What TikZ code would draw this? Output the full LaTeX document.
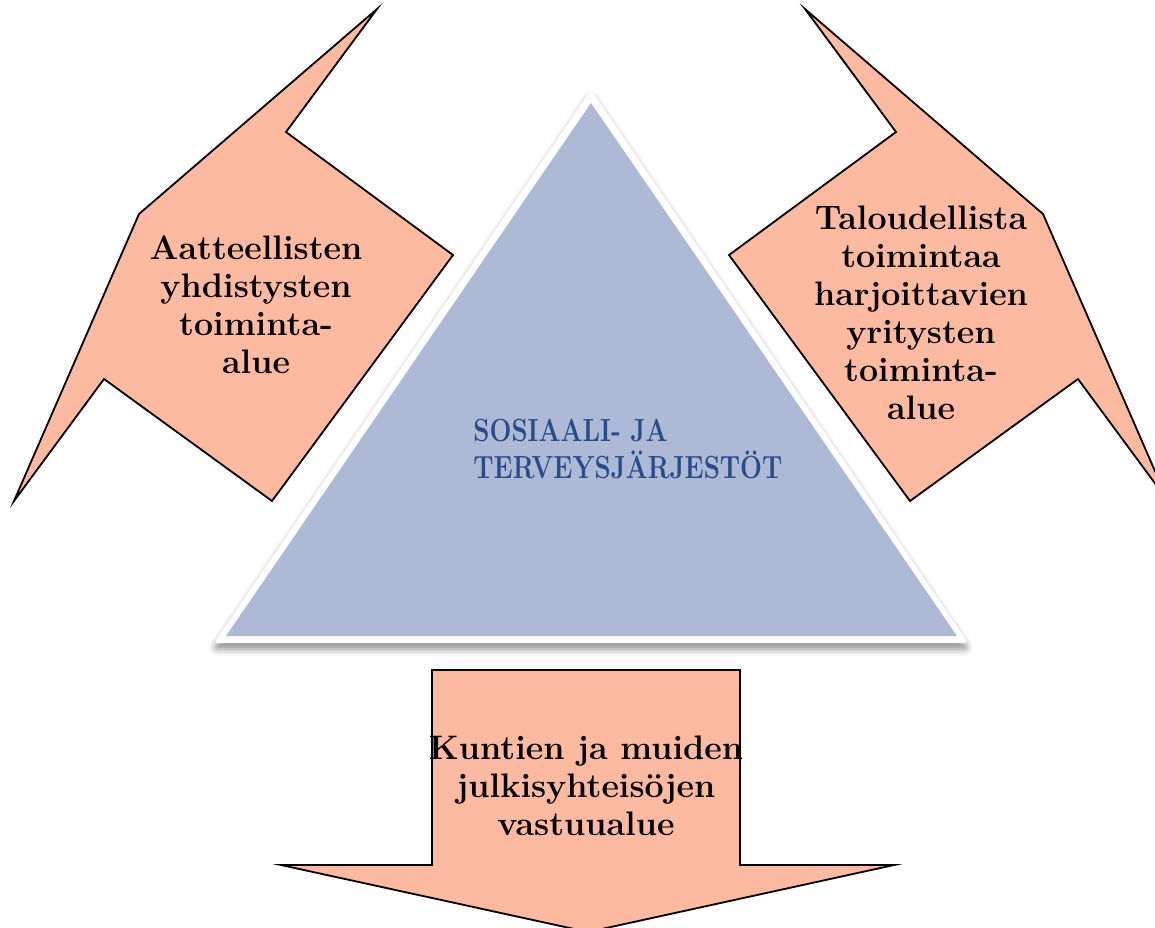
\documentclass[tikz,border=0pt]{standalone}
\usepackage{graphicx}
\usetikzlibrary{
  shadows.blur,
  positioning
}
\definecolor{peach}{RGB}{252,187,161}
\definecolor{lavender}{RGB}{173,185,213}
\definecolor{navytext}{RGB}{40,75,140}
\newcommand{\narrow}[1]{\scalebox{0.81}[1]{#1}}

\begin{document}
\begin{tikzpicture}[
      x=0.5pt,y=-0.5pt,
      area/.style={
         fill=peach,
         draw=black,
         line width=0.9pt,
         line join=miter
      },
      areatext/.style={
         font=\bfseries\fontsize{17}{19}\selectfont,
         align=center,
         inner sep=0pt
      },
      orgtext/.style={
         font=\bfseries\fontsize{16}{18.5}\selectfont,
         text=navytext,
         align=left,
         inner sep=0pt
      },
      frame/.style={
         fill=white,
         rounded corners=2pt,
         blur shadow={shadow xshift=0pt,shadow yshift=-3pt,
                      shadow blur radius=3.5pt,shadow opacity=45}
      }
    ]
    \useasboundingbox (0,0) rectangle (1155,927);
    \begin{scope}
    \clip (0,0) rectangle (1155,927);
    % left and right areas
    \draw[area] (377,9) -- (286,132) -- (453,255) -- (272,501) -- (104,379)
       -- (14,501) -- (139,214) -- cycle;
    \draw[area] (805,9) -- (896,132) -- (729,255) -- (910,501) -- (1078,379)
       -- (1168,501) -- (1043,214) -- cycle;
    % bottom area
    \draw[area] (432,670) -- (740,670) -- (740,865) -- (894,865) -- (588,932)
       -- (281,865) -- (432,865) -- cycle;
    % triangle
    \path[frame] (591,90) -- (968,643) -- (214,643) -- cycle;
    \fill[lavender] (591,103) -- (957,636) -- (226,636) -- cycle;
    \end{scope}

    \node (aatteelliset) [areatext] at (256,305)
       {Aatteellisten\\yhdistysten\\toiminta-\\alue};
    \node (taloudelliset) [areatext] at (921,313)
       {Taloudellista\\toimintaa\\harjoittavien\\yritysten\\toiminta-\\alue};
    \node (julkiset) [areatext] at (586,786)
       {Kuntien ja muiden\\julkisyhteisöjen\\vastuualue};
    \node (jarjestot) [orgtext, anchor=west] at (473,449)
       {\narrow{SOSIAALI- JA}\\\narrow{TERVEYSJÄRJESTÖT}};
\end{tikzpicture}
\end{document}
